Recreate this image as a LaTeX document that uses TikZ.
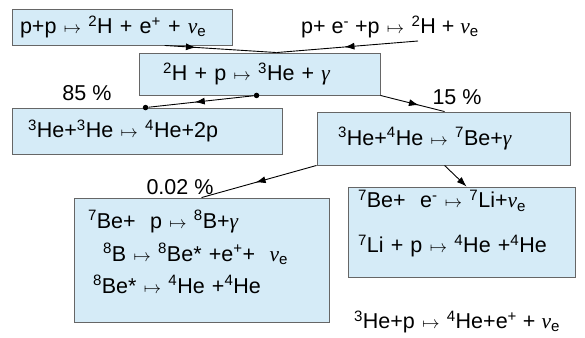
\documentclass[tikz,border=0pt]{standalone}
\usepackage{fontspec}
\setmainfont{Liberation Sans}
\newfontfamily\grk{Liberation Serif}
\usepackage{tikz}
\usetikzlibrary{arrows.meta,calc,decorations.markings}
\definecolor{skyfill}{HTML}{D5EBF7}
\definecolor{rimgrey}{HTML}{666666}
\newcommand\nuc[2]{\textsuperscript{#1}#2}
\newcommand\yields{\hspace{0.34em}{\fontsize{16}{16}\selectfont$\mapsto$}\hspace{0.34em}}
\newcommand\nue{{\grk\itshape ν}\textsubscript{e}}
\newcommand\gam{{\grk\itshape γ}}
\newcommand\eqsize{\fontsize{21.5}{25}\selectfont}
\tikzset{
  box/.style={draw=rimgrey,fill=skyfill,line width=0.9pt,inner ysep=0pt,align=left,font=\eqsize},
  plain/.style={align=left,font=\eqsize,inner sep=0pt},
  flow/.style={draw=black,line width=0.9pt},
  midtip/.style={postaction={decorate},decoration={markings,mark=at position #1 with {\arrow{Latex[length=10pt,width=7pt]}}}},
  joint/.style={circle,fill=black,inner sep=0pt,minimum size=5.5pt}}

\begin{document}
\begin{tikzpicture}[x=1pt,y=-1pt]
  \useasboundingbox (0,0) rectangle (585,337);
  % first steps: deuterium, then helium-3
  \node[box,text width=204pt,inner xsep=8pt,minimum height=36pt] (pp) at (122,27)
    {p+p\yields\nuc{2}{H} + e\textsuperscript{+} + \nue};
  \node[plain] (pep) at (390,27) {p+ e\textsuperscript{-} +p\yields\nuc{2}{H} + \nue};
  \node[box,text width=193pt,inner xsep=24pt,minimum height=42pt] (dp) at (259.5,74)
    {\nuc{2}{H} + p\yields\nuc{3}{He} + \gam};
  % the branches
  \node[box,text width=238pt,inner xsep=16pt,minimum height=46pt] (hehe) at (147,131)
    {\nuc{3}{He}+\nuc{3}{He}\yields\nuc{4}{He}+2p};
  \node[box,text width=211pt,inner xsep=21pt,minimum height=53pt] (hebe) at (443.5,138.5)
    {\nuc{3}{He}+\nuc{4}{He}\yields\nuc{7}{Be}+\gam};
  \node[box,text width=227pt,inner xsep=14pt,minimum height=124pt,text depth=81pt,
    font=\fontsize{21.5}{32.5}\selectfont] (bep) at (201.5,260)
    {\nuc{7}{Be}+ ~p\yields\nuc{8}{B}+\gam\\
     \hspace{15pt}\nuc{8}{B}\yields\nuc{8}{Be}* +e\textsuperscript{+}+ ~\nue\\
     \hspace{5pt}\nuc{8}{Be}*\yields\nuc{4}{He} +\nuc{4}{He}};
  \node[box,text width=207pt,inner xsep=10pt,minimum height=90pt,text depth=66pt,
    font=\fontsize{21.5}{45}\selectfont] (beli) at (461.5,232)
    {\nuc{7}{Be}+ ~e\textsuperscript{-}\yields\nuc{7}{Li}+\nue\\
     \nuc{7}{Li} + p\yields\nuc{4}{He} +\nuc{4}{He}};
  \node[plain] (hep) at (457,322) {\nuc{3}{He}+p\yields\nuc{4}{He}+e\textsuperscript{+} + \nue};
  % branching ratios
  \node[plain] (p85) at (87,93) {85 \%};
  \node[plain] (p15) at (457,97) {15 \%};
  \node[plain] (p002) at (180,187) {0.02 \%};
  % connectors
  \coordinate (pepend) at (418,41);
  \coordinate (meet) at ($(dp.north west)+(138,0)$);
  \draw[flow,midtip=0.28] ($(pp.south west)+(153,0)$) -- (meet);
  \draw[flow,midtip=0.52] (pepend) -- (meet);
  \node[joint] (j1) at ($(dp.south west)+(118,0)$) {};
  \node[joint] (j2) at ($(hehe.north west)+(134,0)$) {};
  \draw[flow,midtip=0.56] (j1) -- (j2);
  \draw[flow,midtip=0.6] (dp.south east) -- ($(hebe.north west)+(128,0)$);
  \draw[flow,midtip=0.53] (hebe.south west) -- ($(bep.north west)+(128,0)$);
  \draw[flow,-{Latex[length=10pt,width=7pt]}] ($(hebe.south west)+(128,0)$) -- ($(beli.north west)+(119,0)$);
\end{tikzpicture}
\end{document}
